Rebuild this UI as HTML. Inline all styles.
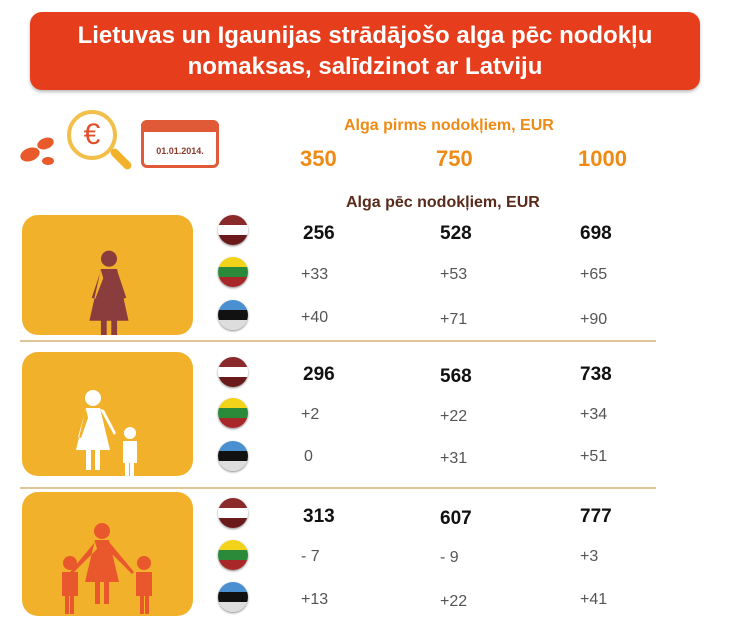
<!DOCTYPE html>
<html><head><style>
body{margin:0;width:735px;height:628px;background:#fff;font-family:"Liberation Sans",sans-serif;position:relative;overflow:hidden}
.a{position:absolute}
.title{left:30px;top:12px;width:670px;height:78px;background:#e63d1c;border-radius:12px;color:#fff;font-weight:bold;font-size:24px;text-align:center;line-height:31px;padding-top:8px;box-sizing:border-box;box-shadow:0 2px 3px #bbb}
.box{left:22px;width:171px;background:#f2b12a;border-radius:16px}
.sep{left:20px;width:636px;height:2px;background:#e0c49a}
.flag{left:218px;width:30px;height:30px;border-radius:50%;overflow:hidden;box-shadow:0 1px 2px #888}
.flag div{height:10px}
.b{font-weight:bold;font-size:19px;color:#111}
.g{font-size:16px;color:#555}
.h{color:#ef8a14;font-weight:bold}
</style></head><body>
<div class="a title">Lietuvas un Igaunijas strādājošo alga pēc nodokļu<br>nomaksas, salīdzinot ar Latviju</div>

<div class="a" style="left:20px;top:148px;width:20px;height:13px;border-radius:50%;background:#e85a2c;transform:rotate(-20deg)"></div>
<div class="a" style="left:37px;top:138px;width:17px;height:11px;border-radius:50%;background:#e85a2c;transform:rotate(-20deg)"></div>
<div class="a" style="left:42px;top:157px;width:12px;height:8px;border-radius:50%;background:#e85a2c"></div>
<div class="a" style="left:67px;top:110px;width:50px;height:50px;border-radius:50%;border:4px solid #f2c04a;box-sizing:border-box;color:#e0502a;font-size:30px;text-align:center;line-height:42px">€</div>
<div class="a" style="left:108px;top:155px;width:26px;height:8px;background:#f2b12a;border-radius:4px;transform:rotate(45deg)"></div>
<div class="a" style="left:141px;top:120px;width:78px;height:48px;border:3px solid #e05a38;border-radius:6px;box-sizing:border-box;background:#fff"></div>
<div class="a" style="left:141px;top:120px;width:78px;height:12px;background:#e05a38;border-radius:6px 6px 0 0"></div>
<div class="a" style="left:141px;top:146px;width:78px;text-align:center;font-size:9px;font-weight:bold;color:#8a3a2a">01.01.2014.</div>

<div class="a h" style="left:344px;top:117px;font-size:16px">Alga pirms nodokļiem, EUR</div>
<div class="a h" style="left:300px;top:146px;font-size:22px">350</div>
<div class="a h" style="left:436px;top:146px;font-size:22px">750</div>
<div class="a h" style="left:578px;top:146px;font-size:22px">1000</div>
<div class="a" style="left:346px;top:194px;font-size:16px;font-weight:bold;color:#5a2a1a">Alga pēc nodokļiem, EUR</div>

<div class="a box" style="top:215px;height:120px"></div>
<div class="a box" style="top:352px;height:124px"></div>
<div class="a box" style="top:492px;height:124px"></div>
<div class="a sep" style="top:340px"></div>
<div class="a sep" style="top:487px"></div>

<svg class="a" style="left:22px;top:215px" width="171" height="120"><g transform="translate(87 0) scale(1.15) translate(-87 -8)"><circle cx="87" cy="46" r="7" fill="#8b3d3d"/><path d="M80 55h14l10 45h-10v20h-5v-20h-4v20h-5v-20h-10z M80 56l-8 24 3 1 7-18z M94 56l8 24-3 1-7-18z" fill="#8b3d3d"/></g></svg>
<svg class="a" style="left:22px;top:352px" width="171" height="124"><g fill="#fff"><circle cx="71" cy="46" r="8"/><path d="M64 56h14l10 42h-10v20h-5v-20h-4v20h-5v-20h-10z M64 57l-8 28 3 1 7-20z M78 57l14 26 2-2-12-23z"/><circle cx="108" cy="81" r="6"/><path d="M101 89h14v22h-3v15h-4v-15h-1v15h-4v-15h-2z"/></g></svg>
<svg class="a" style="left:22px;top:492px" width="171" height="124"><g fill="#e8582c"><circle cx="80" cy="39" r="8"/><path d="M73 48h14l10 42h-10v22h-5v-22h-4v22h-5v-22h-10z M73 50l-25 30 2 2 25-25z M87 50l25 30-2 2-25-25z"/><circle cx="48" cy="71" r="7"/><path d="M40 80h16v24h-4v18h-4v-18h-1v18h-4v-18h-3z"/><circle cx="122" cy="71" r="7"/><path d="M114 80h16v24h-3v18h-4v-18h-1v18h-4v-18h-4z"/></g></svg>

<div id="flags"></div>
<script>
var ys=[215,257,300,357,398,441,498,540,582];
var c=[["#8b2a2a","#fff","#6a1a1a"],["#f3d21a","#2a8a3a","#a8282a"],["#4a90d0","#111","#ddd"]];
var h="";ys.forEach(function(y,i){var k=c[i%3];h+='<div class="a flag" style="top:'+y+'px"><div style="background:'+k[0]+'"></div><div style="background:'+k[1]+'"></div><div style="background:'+k[2]+'"></div></div>';});
document.getElementById("flags").innerHTML=h;
</script>

<div class="a b" style="left:303px;top:223px">256</div><div class="a b" style="left:440px;top:223px">528</div><div class="a b" style="left:580px;top:223px">698</div>
<div class="a g" style="left:301px;top:266px">+33</div><div class="a g" style="left:440px;top:266px">+53</div><div class="a g" style="left:580px;top:266px">+65</div>
<div class="a g" style="left:301px;top:309px">+40</div><div class="a g" style="left:440px;top:311px">+71</div><div class="a g" style="left:580px;top:311px">+90</div>

<div class="a b" style="left:303px;top:364px">296</div><div class="a b" style="left:440px;top:366px">568</div><div class="a b" style="left:580px;top:364px">738</div>
<div class="a g" style="left:301px;top:406px">+2</div><div class="a g" style="left:440px;top:408px">+22</div><div class="a g" style="left:580px;top:406px">+34</div>
<div class="a g" style="left:304px;top:448px">0</div><div class="a g" style="left:440px;top:450px">+31</div><div class="a g" style="left:580px;top:448px">+51</div>

<div class="a b" style="left:303px;top:506px">313</div><div class="a b" style="left:440px;top:508px">607</div><div class="a b" style="left:580px;top:506px">777</div>
<div class="a g" style="left:301px;top:548px">- 7</div><div class="a g" style="left:440px;top:549px">- 9</div><div class="a g" style="left:580px;top:548px">+3</div>
<div class="a g" style="left:301px;top:591px">+13</div><div class="a g" style="left:440px;top:593px">+22</div><div class="a g" style="left:580px;top:591px">+41</div>
</body></html>
